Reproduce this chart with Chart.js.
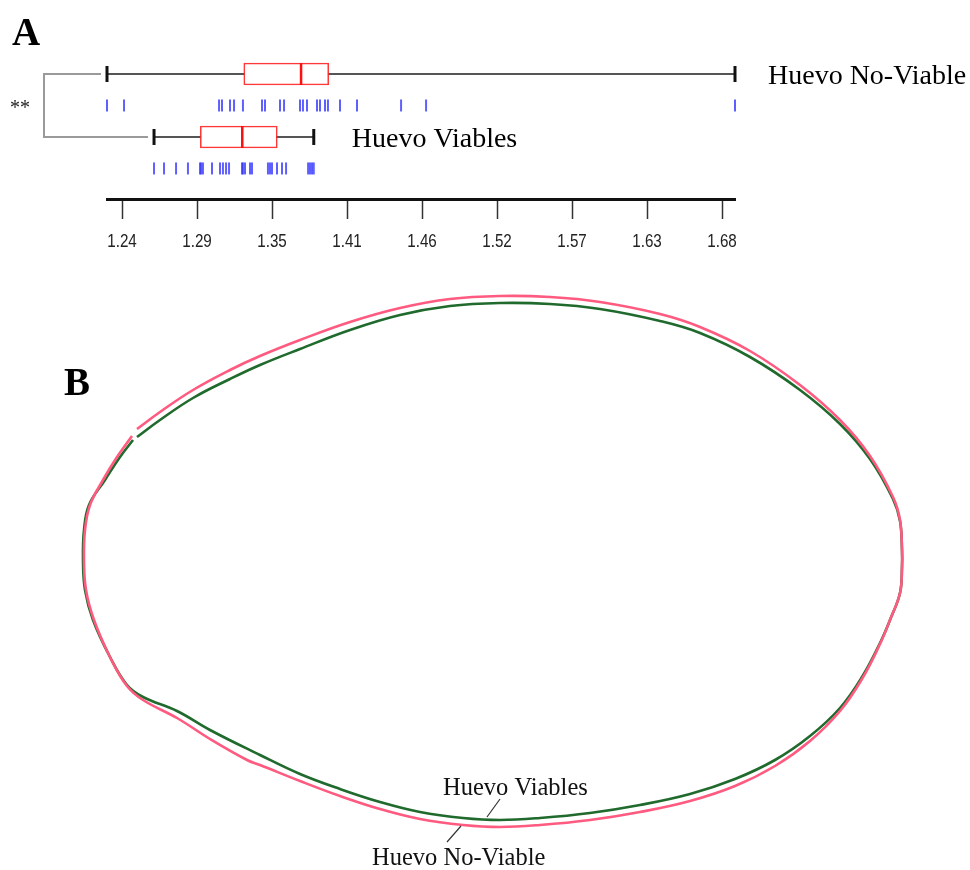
<!DOCTYPE html>
<html>
<head>
<meta charset="utf-8">
<script src="https://cdn.jsdelivr.net/npm/chart.js@4.4.1/dist/chart.umd.min.js"></script>
<style>
  html, body { margin: 0; padding: 0; background: #fff; }
  #wrap { position: relative; width: 970px; height: 870px; overflow: hidden; }
  canvas { position: absolute; left: 0; }
  #panelA { top: 0; }
  #panelB { top: 270px; }
</style>
</head>
<body>
<div id="wrap">
  <canvas id="panelA" width="970" height="270"></canvas>
  <canvas id="panelB" width="970" height="600"></canvas>
</div>
<script>
// ---------- Panel A: shape index per group ----------
const groups = ['Huevo No-Viable', 'Huevo Viables'];
// min, Q1, median, Q3, max
const noViableStats = [1.2279, 1.3291, 1.3715, 1.3920, 1.6926];
const viablesStats  = [1.2627, 1.2969, 1.3280, 1.3539, 1.3809];
const noViableValues = [1.2279, 1.2405, 1.3108, 1.3130, 1.3189, 1.3219, 1.3285, 1.3426, 1.3448,
  1.3559, 1.3589, 1.3707, 1.3729, 1.3759, 1.3833, 1.3855, 1.3892, 1.3914, 1.4003, 1.4129,
  1.4455, 1.4640, 1.6926];
const viablesValues = [1.2627, 1.2701, 1.2790, 1.2878, 1.2967, 1.2975, 1.2989, 1.3056, 1.3115,
  1.3137, 1.3160, 1.3182, 1.3278, 1.3285, 1.3300, 1.3337, 1.3352, 1.3470, 1.3485, 1.3500,
  1.3537, 1.3574, 1.3604, 1.3767, 1.3781, 1.3796, 1.3809];
const axisTicks = [1.239, 1.2945, 1.350, 1.4055, 1.461, 1.5165, 1.572, 1.6275, 1.683];
const axisTickLabels = ['1.24', '1.29', '1.35', '1.41', '1.46', '1.52', '1.57', '1.63', '1.68'];
const significance = '**';

// ---------- Panel B: mean outlines (centred coordinates) ----------
const noViableOutline = [
  [-357,133],[-334,150],[-301,172],[-264,192],[-234,206],[-194,222],[-144,240],[-94,254],
  [-44,263],[6,266],[56,265],[106,260],[166,248],[206,235],[256,211],[306,177],[346,142],
  [376,106],[399,65],[406,42],[408,12],[408,-5],[406,-31],[396,-58],[386,-82],[368,-117],
  [346,-149],[316,-179],[281,-204],[241,-224],[196,-239],[146,-250],[96,-258],[46,-263],
  [6,-265],[-31,-263],[-74,-257],[-114,-247],[-154,-234],[-194,-219],[-234,-203],[-247,-198],
  [-284,-177],[-317,-156],[-351,-138],[-367,-124],[-384,-95],[-400,-58],[-408,-28],[-410,2],
  [-409,32],[-404,57],[-391,82],[-377,105],[-362,126]
];
const viablesOutline = [
  [-357,125],[-334,142],[-301,164],[-264,183],[-234,197],[-194,213],[-144,232],[-94,247],
  [-44,256],[6,259],[56,258],[106,253],[166,241],[206,229],[256,205],[306,172],[346,138],
  [376,103],[399,63],[406,41],[408,12],[408,-5],[406,-31],[396,-58],[386,-81],[368,-115],
  [346,-146],[316,-174],[281,-198],[241,-217],[196,-232],[146,-243],[96,-251],[46,-256],
  [6,-258],[-31,-256],[-74,-250],[-114,-240],[-154,-227],[-194,-212],[-234,-193],
  [-284,-168],[-317,-149],[-351,-135],[-367,-123],[-384,-95],[-401,-58],[-409,-28],[-411,2],
  [-410,32],[-405,57],[-389,82],[-374,105],[-361,122]
];
const viablesLabelAt = [-51, -233];
const viablesLeader = [[6, -237], [-7, -255]];
const noViableLabelAt = [-122, -303];
const noViableLeader = [[-33, -264], [-47, -280]];

// ---------- drawing ----------
const SERIF = '"Liberation Serif", "Times New Roman", serif';
const stats = [noViableStats, viablesStats];
const values = [noViableValues, viablesValues];
const boxRows = [0, 2];
const rugRows = [1, 3];
const labelGap = [33, 38];
const axisMin = Math.min(noViableStats[0], viablesStats[0]);
const axisMax = Math.max(noViableStats[4], viablesStats[4]);

const pts = arr => arr.map(([x, y]) => ({ x, y }));

const panelADatasets = [];
stats.forEach((s, i) => {
  panelADatasets.push({
    type: 'line', data: [{ x: s[0], y: boxRows[i] }, { x: s[4], y: boxRows[i] }],
    borderColor: '#555', borderWidth: 2, pointRadius: 0, order: 5, clip: false
  });
});
panelADatasets.push({
  type: 'bar', indexAxis: 'y',
  data: stats.map((s, i) => ({ y: boxRows[i], x: [s[1], s[3]] })),
  backgroundColor: '#ffffff', borderColor: 'rgba(255,40,40,0.92)', borderWidth: 1.6,
  borderSkipped: false, barThickness: 22, order: 3
});
panelADatasets.push({
  type: 'scatter', data: stats.map((s, i) => ({ x: s[2], y: boxRows[i] })),
  pointStyle: 'line', pointRotation: 90, pointRadius: 11,
  pointBorderColor: '#ff1010', pointBorderWidth: 2.5, order: 1, clip: false
});
panelADatasets.push({
  type: 'scatter',
  data: stats.flatMap((s, i) => [{ x: s[0], y: boxRows[i] }, { x: s[4], y: boxRows[i] }]),
  pointStyle: 'line', pointRotation: 90, pointRadius: 8,
  pointBorderColor: '#111', pointBorderWidth: 3, order: 1, clip: false
});
values.forEach((vals, i) => {
  panelADatasets.push({
    type: 'scatter', data: vals.map(v => ({ x: v, y: rugRows[i] })),
    pointStyle: 'line', pointRotation: 90, pointRadius: 6,
    pointBorderColor: 'rgba(55,55,255,0.8)', pointBorderWidth: 2, order: 1, clip: false
  });
});

const panelAText = {
  id: 'panelAText',
  afterDraw(chart) {
    const ctx = chart.ctx, xs = chart.scales.x, ys = chart.scales.y;
    ctx.save();
    ctx.fillStyle = '#000';
    ctx.font = 'bold 39px ' + SERIF;
    ctx.textBaseline = 'alphabetic';
    ctx.textAlign = 'left';
    ctx.fillText('A', 12, 45);

    // axis tick labels, set in a condensed face
    ctx.font = '19px "Liberation Sans", Arial, sans-serif';
    ctx.fillStyle = '#222';
    ctx.textAlign = 'center';
    axisTicks.forEach((v, i) => {
      ctx.save();
      ctx.translate(xs.getPixelForValue(v), chart.chartArea.bottom + 48);
      ctx.scale(0.8, 1);
      ctx.fillText(axisTickLabels[i], 0, 0);
      ctx.restore();
    });

    ctx.fillStyle = '#000';
    ctx.textAlign = 'left';
    ctx.font = '28px ' + SERIF;
    ctx.textBaseline = 'middle';
    groups.forEach((g, i) => {
      ctx.fillText(g, xs.getPixelForValue(stats[i][4]) + labelGap[i], ys.getPixelForValue(boxRows[i]) + 3);
    });

    const bx = chart.chartArea.left - 63;
    const y0 = ys.getPixelForValue(boxRows[0]);
    const y1 = ys.getPixelForValue(boxRows[1]);
    ctx.strokeStyle = '#9a9a9a';
    ctx.lineWidth = 2;
    ctx.beginPath();
    ctx.moveTo(xs.getPixelForValue(stats[0][0]) - 6, y0);
    ctx.lineTo(bx, y0);
    ctx.lineTo(bx, y1);
    ctx.lineTo(xs.getPixelForValue(stats[1][0]) - 6, y1);
    ctx.stroke();

    ctx.font = '20px ' + SERIF;
    ctx.textAlign = 'center';
    ctx.textBaseline = 'alphabetic';
    ctx.fillStyle = '#222';
    ctx.fillText(significance, bx - 24, (y0 + y1) / 2 + 9);
    ctx.restore();
  }
};

new Chart(document.getElementById('panelA'), {
  type: 'bar',
  data: { datasets: panelADatasets },
  options: {
    responsive: false, animation: false, devicePixelRatio: 1, events: [],
    layout: { padding: { left: 107, right: 235, top: 58.25, bottom: 51 } },
    plugins: { legend: { display: false }, tooltip: { enabled: false } },
    scales: {
      x: {
        type: 'linear', position: 'bottom', min: axisMin, max: axisMax, offset: false,
        afterBuildTicks: scale => { scale.ticks = axisTicks.map(v => ({ value: v })); },
        ticks: { display: false, autoSkip: false },
        grid: { display: true, offset: false, drawOnChartArea: false, drawTicks: true, tickLength: 20, tickColor: '#333', tickWidth: 1.5 },
        border: { display: true, color: '#111', width: 3 }
      },
      y: { type: 'linear', display: false, offset: false, grid: { offset: false }, min: -0.5, max: 3.97, reverse: true }
    }
  },
  plugins: [panelAText]
});

const panelBText = {
  id: 'panelBText',
  afterDraw(chart) {
    const ctx = chart.ctx, xs = chart.scales.x, ys = chart.scales.y;
    ctx.save();
    ctx.fillStyle = '#000';
    ctx.textBaseline = 'alphabetic';
    ctx.textAlign = 'left';
    ctx.font = 'bold 39px ' + SERIF;
    ctx.fillText('B', 64, 125);
    ctx.font = '24.5px ' + SERIF;
    ctx.fillStyle = '#111';
    ctx.fillText('Huevo Viables', xs.getPixelForValue(viablesLabelAt[0]), ys.getPixelForValue(viablesLabelAt[1]));
    ctx.fillText('Huevo No-Viable', xs.getPixelForValue(noViableLabelAt[0]), ys.getPixelForValue(noViableLabelAt[1]));
    ctx.restore();
  }
};

new Chart(document.getElementById('panelB'), {
  type: 'line',
  data: {
    datasets: [
      { data: pts(viablesOutline), borderColor: '#1f6a2c', borderWidth: 2.6, pointRadius: 0, tension: 0.4, fill: false, order: 2 },
      { data: pts(noViableOutline), borderColor: '#ff5a80', borderWidth: 2.6, pointRadius: 0, tension: 0.4, fill: false, order: 1 },
      { data: pts(viablesLeader), borderColor: '#333', borderWidth: 1.2, pointRadius: 0, order: 0 },
      { data: pts(noViableLeader), borderColor: '#333', borderWidth: 1.2, pointRadius: 0, order: 0 }
    ]
  },
  options: {
    responsive: false, animation: false, devicePixelRatio: 1, events: [],
    layout: { padding: 0 },
    plugins: { legend: { display: false }, tooltip: { enabled: false } },
    scales: {
      x: { type: 'linear', display: false, min: -494, max: 476 },
      y: { type: 'linear', display: false, min: -308, max: 292 }
    }
  },
  plugins: [panelBText]
});
</script>
</body>
</html>
